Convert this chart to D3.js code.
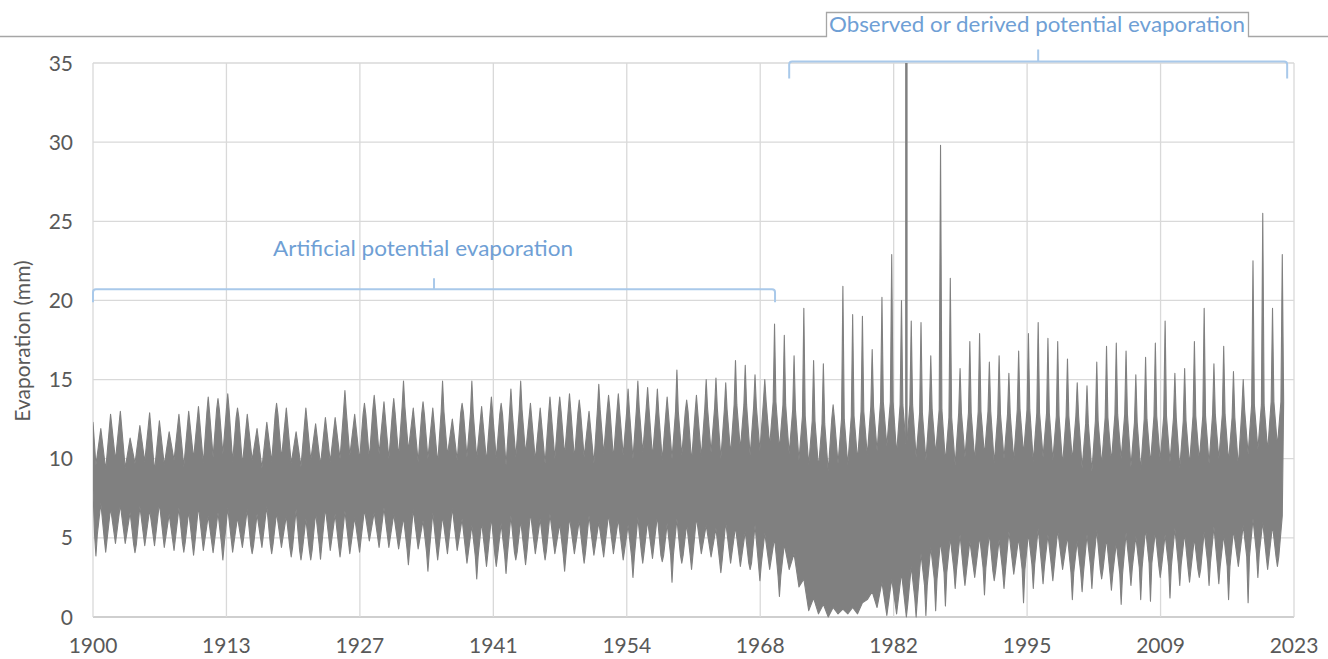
<!DOCTYPE html>
<html>
<head>
<meta charset="utf-8">
<script src="https://d3js.org/d3.v7.min.js"></script>
<style>
  body { margin: 0; background: #fff; }
  text { font-family: Lato, "Open Sans", sans-serif; }
</style>
</head>
<body>
<script>
// x axis labels (evenly spaced over the date range) and y ticks
const xTickLabels = ["1900", "1913", "1927", "1941", "1954", "1968", "1982", "1995", "2009", "2023"];
const yTicks = [0, 5, 10, 15, 20, 25, 30, 35];

// summer maxima, one per season 1900..2022 (mm)
const peaks = [
  12.3, 11.9, 12.8, 13.0, 11.3, 12.1, 12.9, 12.4, 11.7, 12.8,
  13.0, 13.3, 13.9, 13.8, 14.1, 13.2, 12.8, 11.9, 12.3, 13.5,
  13.2, 11.7, 13.2, 12.2, 12.6, 12.6, 14.3, 12.8, 13.5, 14.0,
  13.6, 13.8, 14.9, 13.2, 13.6, 13.2, 14.9, 12.5, 13.5, 14.9,
  13.3, 13.9, 13.5, 14.4, 14.9, 13.5, 13.2, 13.9, 13.9, 14.1,
  13.7, 13.0, 14.7, 14.0, 14.1, 14.4, 14.9, 14.5, 14.4, 13.9,
  15.6, 13.7, 14.0, 15.0, 15.1, 14.8, 16.2, 15.9, 15.3, 15.0,
  18.5, 17.8, 16.5, 19.5, 16.2, 16.0, 13.4, 20.9, 19.1, 19.0,
  16.9, 20.2, 22.9, 20.0, 18.7, 18.6, 16.5, 29.8, 21.4, 15.7,
  17.4, 17.9, 16.1, 16.5, 15.4, 16.8, 17.9, 18.6, 17.6, 17.4,
  16.3, 14.8, 14.6, 16.1, 17.1, 17.3, 16.8, 15.3, 16.4, 17.3,
  18.7, 15.4, 15.7, 17.4, 19.5, 16.0, 17.1, 15.5, 15.0, 22.5,
  25.5, 19.5, 22.9
];
// lower edge of the dense band in summer, 1900..2022
const summerLows = [
  8.0, 7.2, 6.9, 7.1, 6.6, 7.0, 6.8, 7.2, 6.5, 6.9,
  6.7, 7.0, 6.4, 6.6, 6.9, 6.3, 6.8, 6.5, 7.0, 6.6,
  6.4, 6.8, 6.2, 6.6, 6.9, 6.5, 6.7, 6.3, 6.8, 6.6,
  6.9, 6.5, 6.3, 6.8, 6.1, 6.6, 6.4, 6.9, 6.2, 5.8,
  6.0, 6.3, 5.9, 6.4, 6.1, 6.6, 6.2, 6.5, 5.9, 6.3,
  6.1, 6.4, 6.0, 6.5, 6.2, 5.8, 6.3, 6.1, 6.4, 5.9,
  6.2, 5.9, 6.3, 5.8, 5.6, 6.0, 5.7, 5.4, 5.8, 5.3,
  5.0, 4.6, 4.0, 2.4, 1.2, 0.8, 0.6, 0.5, 0.6, 0.9,
  1.6, 2.2, 2.4, 2.8, 3.2, 4.0, 4.4, 4.8, 5.0, 5.2,
  4.8, 5.1, 5.3, 4.9, 5.4, 5.0, 5.3, 5.6, 5.2, 5.5,
  5.1, 4.8, 5.2, 5.5, 5.0, 4.7, 5.3, 5.1, 5.6, 5.4,
  5.2, 5.6, 5.3, 5.0, 5.4, 5.7, 5.2, 5.5, 5.8, 6.2,
  6.0, 5.8, 6.4
];
// winter minima, 1900..2021 (mm)
const troughs = [
  3.85, 4.1, 4.65, 4.65, 4.06, 4.5, 4.5, 4.4, 4.2, 4.1,
  3.9, 4.2, 4.06, 3.6, 4.1, 4.4, 4.0, 4.4, 4.0, 4.4,
  3.8, 3.6, 3.6, 3.65, 4.2, 3.8, 4.0, 4.1, 4.8, 4.4,
  4.4, 4.3, 3.3, 4.3, 2.9, 3.6, 4.0, 4.2, 3.4, 2.4,
  3.2, 3.2, 2.75, 3.6, 3.3, 4.0, 3.6, 4.0, 2.9, 4.0,
  3.4, 3.9, 3.8, 4.0, 3.6, 2.5, 3.4, 3.7, 3.5, 2.2,
  3.4, 3.0, 4.0, 3.8, 2.8, 3.4, 3.2, 3.0, 2.3, 3.0,
  1.3, 3.0, 1.9, 0.4, 0.2, 0.0, 0.2, 0.2, 0.2, 1.1,
  0.6, 0.1, 0.2, 0.0, 0.0, 0.1, 0.4, 0.7, 1.8, 2.0,
  2.5, 1.4, 2.3, 1.8, 2.7, 0.9, 1.8, 2.1, 2.3, 3.0,
  1.1, 1.6, 1.8, 2.4, 1.7, 0.8, 2.0, 1.1, 1.0, 2.5,
  1.2, 2.0, 2.2, 2.5, 2.0, 2.1, 1.1, 3.2, 0.9, 2.5,
  3.0, 3.2
];
// upper edge of the dense band in winter, 1900..2021
const winterHighs = [
  9.6, 9.3, 9.9, 9.4, 9.7, 9.8, 9.2, 9.6, 9.9, 9.5,
  10.0, 9.7, 10.1, 10.3, 9.8, 9.6, 9.9, 9.4, 9.8, 10.0,
  9.7, 9.5, 9.9, 9.6, 9.8, 10.0, 10.2, 9.9, 10.0, 10.3,
  10.0, 10.1, 10.5, 9.8, 10.0, 9.7, 10.2, 9.9, 10.1, 10.0,
  9.8, 10.0, 9.6, 10.1, 10.3, 9.9, 9.7, 10.0, 10.2, 10.0,
  10.1, 9.7, 10.3, 10.0, 10.2, 10.0, 10.4, 10.1, 9.9, 10.0,
  10.2, 9.8, 10.1, 10.4, 10.0, 10.3, 10.6, 10.2, 10.5, 10.8,
  10.6, 10.3, 9.9, 9.6, 9.4, 9.2, 9.7, 9.6, 9.9, 10.2,
  10.5, 10.8, 10.3, 10.6, 10.1, 9.9, 10.3, 9.8, 9.6, 10.1,
  9.9, 10.2, 9.7, 10.0, 9.9, 10.3, 9.8, 10.1, 9.9, 9.6,
  9.9, 9.4, 9.2, 9.6, 9.8, 10.0, 9.5, 9.3, 9.7, 9.9,
  9.8, 9.4, 9.6, 9.9, 9.7, 10.0, 9.8, 9.5, 10.3, 10.6,
  10.5, 10.8
];
// off-season outlier spike
const extraSpikes = [{ year: 1983.3, value: 35.0, base: 11.0 }];

// bracket annotations
const bracketLabels = ["Artificial potential evaporation", "Observed or derived potential evaporation"];
const bracketFrom = [1900, 1971.3];
const bracketTo = [1969.85, 2022.3];
const bracketLevel = [20.7, 35.1];

const width = 1328, height = 659;
const margin = { left: 93, right: 34, top: 63, bottom: 42 };
const summerPos = -0.2, winterPos = 0.3;
// spike glyph: triangle from the band that turns into a thin needle
const neckHalf = 0.14, neckUp = 2.8, neckDown = 2.0;
const grey = "#808080";

const svg = d3.select("body").append("svg")
  .attr("width", width).attr("height", height);
svg.append("rect").attr("width", width).attr("height", height).attr("fill", "#fff");

const x = d3.scaleLinear().domain([1900, 2023]).range([margin.left, width - margin.right]);
const y = d3.scaleLinear().domain([0, 35]).range([height - margin.bottom, margin.top]);

const xTicks = xTickLabels.map((d, i) => 1900 + i * (2023 - 1900) / (xTickLabels.length - 1));

// grid
svg.append("g").selectAll("line").data(yTicks).join("line")
  .attr("x1", x(1900)).attr("x2", x(2023))
  .attr("y1", d => y(d)).attr("y2", d => y(d))
  .attr("stroke", d => d === 0 ? "#bfbfbf" : "#d9d9d9").attr("stroke-width", 1.3);
svg.append("g").selectAll("line").data(xTicks).join("line")
  .attr("x1", d => x(d)).attr("x2", d => x(d))
  .attr("y1", y(0)).attr("y2", y(35))
  .attr("stroke", "#d9d9d9").attr("stroke-width", 1.3);

// tick labels
svg.append("g").selectAll("text").data(yTicks).join("text")
  .attr("x", 73).attr("y", d => y(d)).attr("dy", "0.36em")
  .attr("text-anchor", "end").attr("font-size", 21).attr("fill", "#595959")
  .text(d => d);
svg.append("g").selectAll("text").data(xTicks).join("text")
  .attr("x", d => x(d)).attr("y", 653)
  .attr("text-anchor", "middle").attr("font-size", 21).attr("fill", "#595959")
  .text((d, i) => xTickLabels[i]);

svg.append("text")
  .attr("transform", "translate(30,341) rotate(-90)")
  .attr("text-anchor", "middle").attr("font-size", 21).attr("fill", "#595959")
  .text("Evaporation (mm)");

// series outline built from the seasonal extremes and band edges
svg.append("clipPath").attr("id", "plot-clip").append("rect")
  .attr("x", x(1900)).attr("y", 0).attr("width", x(2023) - x(1900)).attr("height", height);
const plot = svg.append("g").attr("clip-path", "url(#plot-clip)");

const tSummer = j => j === 0 ? 1900 : 1900 + j + summerPos;
const tWinter = i => 1900 + i + winterPos;
const nW = winterHighs.length;

function upPts(j) {
  const t = tSummer(j), apex = peaks[j];
  if (j === 0) return [{ t, v: apex }];
  const b = Math.max(winterHighs[j - 1], winterHighs[Math.min(j, nW - 1)]) + neckUp;
  if (apex > b + 0.5) return [{ t: t - neckHalf, v: b }, { t, v: apex }, { t: t + neckHalf, v: b }];
  return [{ t, v: apex }];
}
function downPts(i) {
  const t = tWinter(i), apex = troughs[i];
  const b = Math.min(summerLows[i], summerLows[i + 1]) - neckDown;
  if (apex < b - 0.4) return [{ t: t - neckHalf, v: b }, { t, v: apex }, { t: t + neckHalf, v: b }];
  return [{ t, v: apex }];
}

let upper = upPts(0), lower = [{ t: tSummer(0), v: summerLows[0] }];
troughs.forEach((d, i) => {
  upper = upper.concat([{ t: tWinter(i), v: winterHighs[i] }], upPts(i + 1));
  lower = lower.concat(downPts(i), [{ t: tSummer(i + 1), v: summerLows[i + 1] }]);
});

const line = d3.line().x(d => x(d.t)).y(d => y(d.v));
plot.append("path")
  .attr("d", line(upper.concat(lower.slice().reverse())) + "Z")
  .attr("fill", grey).attr("stroke", grey).attr("stroke-width", 1.1).attr("stroke-linejoin", "round");

plot.append("g").selectAll("line").data(extraSpikes).join("line")
  .attr("x1", d => x(d.year)).attr("x2", d => x(d.year))
  .attr("y1", d => y(d.base)).attr("y2", d => y(d.value))
  .attr("stroke", grey).attr("stroke-width", 2.5);

// frame line across the top with the tab for the second label
svg.append("path").attr("d", "M0,36.5H826.5V12.5H1248.5V36.5H" + width)
  .attr("fill", "none").attr("stroke", "#a6a6a6").attr("stroke-width", 1.3);

// brackets
const bracketColor = "#a9c9ea", labelColor = "#6f9fd5";
const legs = [13, 17], tips = [11, 12];
bracketLabels.forEach((label, i) => {
  const x0 = x(bracketFrom[i]), x1 = x(bracketTo[i]), yl = y(bracketLevel[i]);
  const mid = (x0 + x1) / 2, r = 3;
  svg.append("path")
    .attr("d", `M${x0},${yl + legs[i]}L${x0},${yl + r}Q${x0},${yl} ${x0 + r},${yl}` +
      `L${x1 - r},${yl}Q${x1},${yl} ${x1},${yl + r}L${x1},${yl + legs[i]}` +
      `M${mid},${yl}L${mid},${yl - tips[i]}`)
    .attr("fill", "none").attr("stroke", bracketColor).attr("stroke-width", 2);
});
svg.append("text")
  .attr("x", 423).attr("y", 256).attr("text-anchor", "middle")
  .attr("font-size", 21).attr("fill", labelColor)
  .attr("textLength", 300).attr("lengthAdjust", "spacingAndGlyphs")
  .text(bracketLabels[0]);
svg.append("text")
  .attr("x", 1037).attr("y", 32).attr("text-anchor", "middle")
  .attr("font-size", 21).attr("fill", labelColor)
  .attr("textLength", 416).attr("lengthAdjust", "spacingAndGlyphs")
  .text(bracketLabels[1]);
</script>
</body>
</html>
